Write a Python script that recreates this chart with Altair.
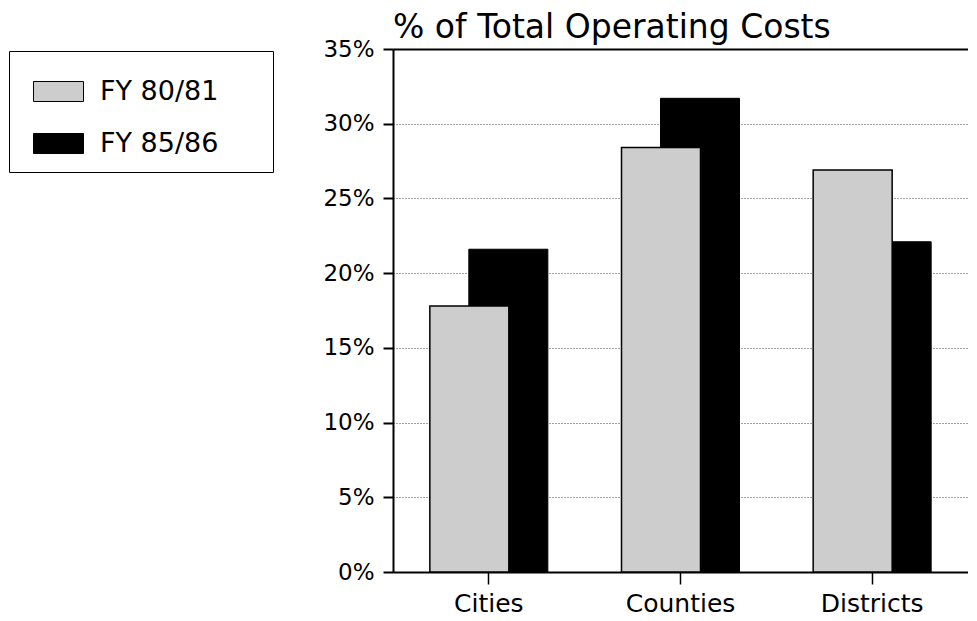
import altair as alt
import pandas as pd

categories = ["Cities", "Counties", "Districts"]
series_names = ["FY 80/81", "FY 85/86"]
fy80 = [0.178, 0.284, 0.269]
fy85 = [0.216, 0.317, 0.221]
y_ticks = [0.0, 0.05, 0.10, 0.15, 0.20, 0.25, 0.30, 0.35]
title_text = "% of Total Operating Costs"

rows = []
for c, a, b in zip(categories, fy80, fy85):
    rows.append({"category": c, "series": series_names[0], "value": a})
    rows.append({"category": c, "series": series_names[1], "value": b})
df = pd.DataFrame(rows)

FONT = "DejaVu Sans"

x_enc = alt.X(
    "category:N",
    sort=categories,
    scale=alt.Scale(paddingInner=0, paddingOuter=0),
    axis=alt.Axis(
        title=None,
        labelAngle=0,
        labelFont=FONT,
        labelFontSize=25,
        labelColor="black",
        labelPadding=7,
        tickSize=12,
        tickColor="black",
        tickWidth=1.5,
        domainColor="black",
        domainWidth=2,
        grid=False,
    ),
)

y_enc = alt.Y(
    "value:Q",
    scale=alt.Scale(domain=[0, 0.35], nice=False),
    axis=alt.Axis(
        title=None,
        values=y_ticks,
        format=".0%",
        labelFont=FONT,
        labelFontSize=23,
        labelColor="black",
        labelPadding=9,
        tickSize=10,
        tickColor="black",
        tickWidth=2,
        domainColor="black",
        domainWidth=2,
        grid=True,
        gridColor=alt.condition("datum.value >= 0.349", alt.value("black"), alt.value("#444444")),
        gridDash=alt.condition("datum.value >= 0.349", alt.value([]), alt.value([1, 2])),
        gridWidth=alt.condition("datum.value >= 0.349", alt.value(2), alt.value(1)),
    ),
)

color_enc = alt.Color(
    "series:N",
    scale=alt.Scale(domain=series_names, range=["#cdcdcd", "black"]),
    legend=alt.Legend(
        title=None,
        orient="none",
        legendX=-384,
        legendY=2,
        padding=15,
        strokeColor="black",
        fillColor="white",
        symbolType="M-1,-0.4H1V0.4H-1Z",
        symbolSize=2500,
        symbolStrokeColor="black",
        symbolStrokeWidth=1,
        symbolOpacity=1,
        symbolOffset=9,
        labelFont=FONT,
        labelFontSize=27,
        labelColor="black",
        labelOffset=16,
        labelLimit=400,
        rowPadding=13,
        labelExpr="datum.label + '\u2800\u2800'",
    ),
)

base = alt.Chart(df).encode(x=x_enc, y=y_enc, color=color_enc)

dark = base.transform_filter(alt.datum.series == series_names[1]).mark_bar(
    width=79, xOffset=19.5, stroke="black", strokeWidth=1, opacity=1
)
light = base.transform_filter(alt.datum.series == series_names[0]).mark_bar(
    width=79, xOffset=-19.5, stroke="black", strokeWidth=1.5, opacity=1
)

chart = (
    alt.layer(dark, light)
    .properties(
        width=575,
        height=523,
        title=alt.TitleParams(
            title_text,
            anchor="start",
            frame="group",
            font=FONT,
            fontSize=33,
            fontWeight="normal",
            color="black",
            offset=-7,
        ),
        padding={"left": 0, "top": 4, "right": 0, "bottom": 0},
    )
    .configure_view(stroke=None)
    .configure_legend(strokeWidth=1.5)
    .configure(background="white")
)

chart.save("out.html", embed_options={"renderer": "svg", "actions": False})
